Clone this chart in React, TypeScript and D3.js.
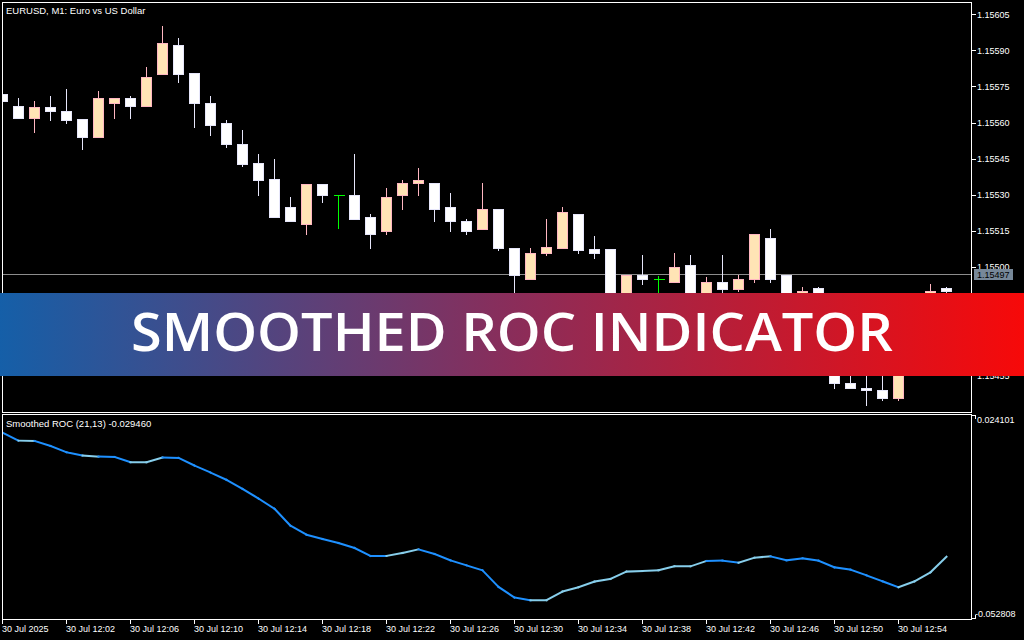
import React from 'react';
import * as d3 from 'd3';

// EURUSD M1, 30 Jul 2025 11:58 .. 12:57 (60 bars)
const opens = [
  1.155718, 1.155668, 1.155616, 1.155661, 1.155648, 1.155611, 1.155537, 1.155679, 1.155701, 1.155666,
  1.155799, 1.155921, 1.155802, 1.15568, 1.155597, 1.155511, 1.155428, 1.155362, 1.155249, 1.155176,
  1.155341, 1.155298, 1.155299, 1.155207, 1.155148, 1.155298, 1.155348, 1.155348, 1.155248, 1.155191,
  1.155155, 1.15524, 1.155078, 1.154947, 1.155055, 1.155076, 1.15522, 1.155071, 1.155071, 1.154842,
  1.154966, 1.154949, 1.154935, 1.155008, 1.154875, 1.154936, 1.154906, 1.154947, 1.155119, 1.154966,
  1.154871, 1.154909, 1.154855, 1.154517, 1.154496, 1.154488, 1.154453, 1.154676, 1.154871, 1.154909,
];
const highs = [
  1.155718, 1.155703, 1.15569, 1.155711, 1.15574, 1.155611, 1.155733, 1.155701, 1.155711, 1.15583,
  1.156001, 1.155952, 1.155802, 1.155711, 1.155611, 1.155569, 1.15547, 1.155449, 1.155291, 1.155341,
  1.155341, 1.155298, 1.15547, 1.15522, 1.155328, 1.155362, 1.155411, 1.155348, 1.155308, 1.155199,
  1.155349, 1.15524, 1.155078, 1.155079, 1.155199, 1.155249, 1.15522, 1.155129, 1.155071, 1.154966,
  1.15505, 1.154964, 1.155057, 1.15505, 1.154958, 1.15505, 1.154967, 1.155136, 1.155158, 1.154966,
  1.154918, 1.154918, 1.154871, 1.154564, 1.154572, 1.154564, 1.154697, 1.154871, 1.154929, 1.154917,
];
const lows = [
  1.155687, 1.155616, 1.155558, 1.155608, 1.155595, 1.155486, 1.155537, 1.155616, 1.155616, 1.155666,
  1.155799, 1.155766, 1.155579, 1.155546, 1.155496, 1.155417, 1.155296, 1.155205, 1.155188, 1.155134,
  1.155267, 1.155157, 1.155198, 1.155076, 1.155134, 1.155238, 1.155296, 1.155188, 1.155147, 1.155134,
  1.155155, 1.155068, 1.154863, 1.154947, 1.155047, 1.155076, 1.155055, 1.155034, 1.154788, 1.154813,
  1.154926, 1.154863, 1.154935, 1.154842, 1.154863, 1.154855, 1.154897, 1.154935, 1.154935, 1.154788,
  1.154842, 1.154835, 1.154494, 1.154494, 1.154424, 1.154445, 1.154445, 1.154655, 1.154863, 1.15489,
];
const closes = [
  1.155687, 1.155616, 1.155661, 1.155645, 1.155608, 1.155537, 1.155701, 1.155701, 1.155666, 1.155788,
  1.15593, 1.155799, 1.155679, 1.155587, 1.155508, 1.155424, 1.155359, 1.155205, 1.155188, 1.155341,
  1.155296, 1.155298, 1.155198, 1.155134, 1.15529, 1.155348, 1.15536, 1.155238, 1.155188, 1.155147,
  1.15524, 1.155076, 1.154966, 1.155057, 1.155079, 1.155228, 1.155068, 1.155055, 1.154821, 1.154966,
  1.154947, 1.154949, 1.155, 1.154863, 1.154936, 1.154906, 1.15495, 1.155136, 1.154947, 1.154821,
  1.1549, 1.154863, 1.154517, 1.154494, 1.154488, 1.154453, 1.154676, 1.154842, 1.1549, 1.154897,
];

// Smoothed ROC (21,13)
const rocValues = [
  0.01743, 0.01441, 0.0143, 0.01241, 0.01004, 0.00876, 0.00838, 0.00827, 0.00627, 0.00627,
  0.008, 0.00789, 0.00499, 0.00235, -0.00041, -0.0038, -0.00746, -0.01134, -0.01775, -0.02114,
  -0.02276, -0.02427, -0.02615, -0.02917, -0.02917, -0.02804, -0.02668, -0.02842, -0.03083, -0.03272,
  -0.0346, -0.04086, -0.04489, -0.04591, -0.04591, -0.04263, -0.04101, -0.03886, -0.03784, -0.03509,
  -0.03483, -0.0346, -0.03309, -0.03309, -0.03106, -0.03094, -0.0317, -0.02981, -0.02932, -0.03083,
  -0.03008, -0.03094, -0.03347, -0.03434, -0.03649, -0.03875, -0.04101, -0.03875, -0.03535, -0.02946,
];
// 1 = light colour for the segment ending at this bar, 0 = main colour
const rocTone = [
  0, 0, 1, 0, 0, 0, 1, 0, 0, 1,
  1, 0, 0, 0, 0, 0, 0, 0, 0, 0,
  0, 0, 0, 0, 0, 1, 1, 0, 0, 0,
  0, 0, 0, 0, 1, 1, 1, 1, 1, 1,
  1, 1, 1, 1, 1, 0, 0, 1, 1, 0,
  0, 0, 0, 0, 0, 0, 0, 1, 1, 1,
];

const priceTicks = [1.15605, 1.1559, 1.15575, 1.1556, 1.15545, 1.1553, 1.15515, 1.155, 1.15485, 1.1547, 1.15455];
const currentPrice = 1.15497;
const rocMax = 0.024101;
const rocMin = -0.052808;

const timeBars = [0, 4, 8, 12, 16, 20, 24, 28, 32, 36, 40, 44, 48, 52, 56];
const timeLabels = [
  '30 Jul 2025', '30 Jul 12:02', '30 Jul 12:06', '30 Jul 12:10', '30 Jul 12:14',
  '30 Jul 12:18', '30 Jul 12:22', '30 Jul 12:26', '30 Jul 12:30', '30 Jul 12:34',
  '30 Jul 12:38', '30 Jul 12:42', '30 Jul 12:46', '30 Jul 12:50', '30 Jul 12:54',
];

const FONT = '"Liberation Sans", Arial, sans-serif';

const App: React.FC = () => {
  const left = 2.5;
  const right = 971.5;
  const mainTop = 2.5;
  const mainBottom = 412.5;
  const subTop = 414.5;
  const subBottom = 619.5;

  const x = d3.scaleLinear().domain([0, 59]).range([2.5, 946.5]);
  const yP = d3.scaleLinear().domain([1.15455, 1.15605]).range([375.3, 14.3]);
  const yR = d3.scaleLinear().domain([rocMin, rocMax]).range([618.5, 415]);
  const fmt = d3.format('.5f');

  const bull = { fill: '#FFE4B5', stroke: '#FFB6C1' };
  const bear = { fill: '#FFFFFF', stroke: '#E6E6FA' };

  const segs = rocValues.slice(1).map((v, k) => {
    const i = k + 1;
    return {
      d: d3.line<number>()([[x(i - 1), yR(rocValues[i - 1])], [x(i), yR(v)]]) || '',
      c: rocTone[i] ? '#87CEEB' : '#1E90FF',
    };
  });

  const yCur = Math.round(yP(currentPrice)) + 0.5;

  return (
    <svg width={1024} height={640} style={{ position: 'fixed', left: 0, top: 0, background: '#000' }}>
      <defs>
        <clipPath id="mainClip">
          <rect x={left} y={mainTop} width={right - left} height={mainBottom - mainTop} />
        </clipPath>
        <clipPath id="subClip">
          <rect x={left} y={subTop} width={right - left} height={subBottom - subTop} />
        </clipPath>
        <linearGradient id="banner" x1="0" x2="1" y1="0" y2="0">
          <stop offset="0" stopColor="#155FA8" />
          <stop offset="0.5" stopColor="#8A2D5A" />
          <stop offset="1" stopColor="#F70909" />
        </linearGradient>
      </defs>
      <rect width={1024} height={640} fill="#000" />

      {/* main price panel */}
      <g clipPath="url(#mainClip)" shapeRendering="crispEdges">
        <line x1={left} x2={right} y1={yCur} y2={yCur} stroke="#8C8C8C" />
        {opens.map((o, i) => {
          const c = closes[i];
          const cx = x(i);
          if (o === c) {
            return (
              <g key={i} stroke="#00FF00">
                <line x1={cx} x2={cx} y1={yP(highs[i])} y2={yP(lows[i])} />
                <line x1={cx - 5} x2={cx + 6} y1={yP(o)} y2={yP(o)} />
              </g>
            );
          }
          const st = c > o ? bull : bear;
          const top = yP(Math.max(o, c));
          const bot = yP(Math.min(o, c));
          return (
            <g key={i}>
              <line x1={cx} x2={cx} y1={yP(highs[i])} y2={yP(lows[i])} stroke={st.stroke} />
              <rect x={cx - 5} y={top} width={10} height={Math.max(1, bot - top)} fill={st.fill} stroke={st.stroke} />
            </g>
          );
        })}
      </g>
      <text x={6} y={13.5} fill="#fff" fontFamily={FONT} fontSize={9.5}>EURUSD, M1:  Euro vs US Dollar</text>

      {/* indicator panel */}
      <g clipPath="url(#subClip)">
        {segs.map((s, i) => (
          <path key={i} d={s.d} fill="none" stroke={s.c} strokeWidth={2} strokeLinecap="square" />
        ))}
      </g>
      <text x={6} y={427} fill="#fff" fontFamily={FONT} fontSize={9.5}>Smoothed ROC (21,13) -0.029460</text>

      {/* frames */}
      <g fill="none" stroke="#fff" shapeRendering="crispEdges">
        <rect x={left} y={mainTop} width={right - left} height={mainBottom - mainTop} />
        <rect x={left} y={subTop} width={right - left} height={subBottom - subTop} />
      </g>

      {/* price axis */}
      <g fontFamily={FONT} fontSize={9} fill="#fff" shapeRendering="crispEdges">
        {priceTicks.map((p) => (
          <g key={p}>
            <line x1={right} x2={right + 4} y1={Math.round(yP(p)) + 0.5} y2={Math.round(yP(p)) + 0.5} stroke="#fff" />
            <text x={977} y={yP(p)} dy="0.36em">{fmt(p)}</text>
          </g>
        ))}
        <rect x={973.5} y={yCur - 5.5} width={39} height={11} fill="#778899" />
        <text x={977} y={yCur} dy="0.36em" fill="#000">{fmt(currentPrice)}</text>
      </g>

      {/* indicator axis */}
      <g fontFamily={FONT} fontSize={9} fill="#fff" shapeRendering="crispEdges">
        <path d={`M${right},${yR(rocMax)}H${right + 4}V${yR(rocMax) + 4}`} stroke="#fff" fill="none" />
        <path d={`M${right},${yR(rocMin)}H${right + 4}V${yR(rocMin) - 4}`} stroke="#fff" fill="none" />
        <text x={977} y={yR(rocMax) + 4.5} dy="0.36em">{rocMax.toFixed(6)}</text>
        <text x={975} y={yR(rocMin) - 5} dy="0.36em">{rocMin.toFixed(6)}</text>
      </g>

      {/* time axis */}
      <g fontFamily={FONT} fontSize={9} fill="#fff" shapeRendering="crispEdges">
        {timeBars.map((b, k) => (
          <g key={b}>
            <line x1={x(b)} x2={x(b)} y1={subBottom} y2={subBottom + 4} stroke="#fff" />
            <text x={x(b) - 0.5} y={632}>{timeLabels[k]}</text>
          </g>
        ))}
      </g>

      {/* title banner */}
      <rect x={0} y={293} width={1024} height={83} fill="url(#banner)" />
      <text
        x={131}
        y={351}
        fill="#fff"
        fontFamily='"Open Sans", "Noto Sans", sans-serif'
        fontWeight={600}
        fontSize={52}
        textLength={762}
        lengthAdjust="spacingAndGlyphs"
      >
        SMOOTHED ROC INDICATOR
      </text>
    </svg>
  );
};

export default App;
